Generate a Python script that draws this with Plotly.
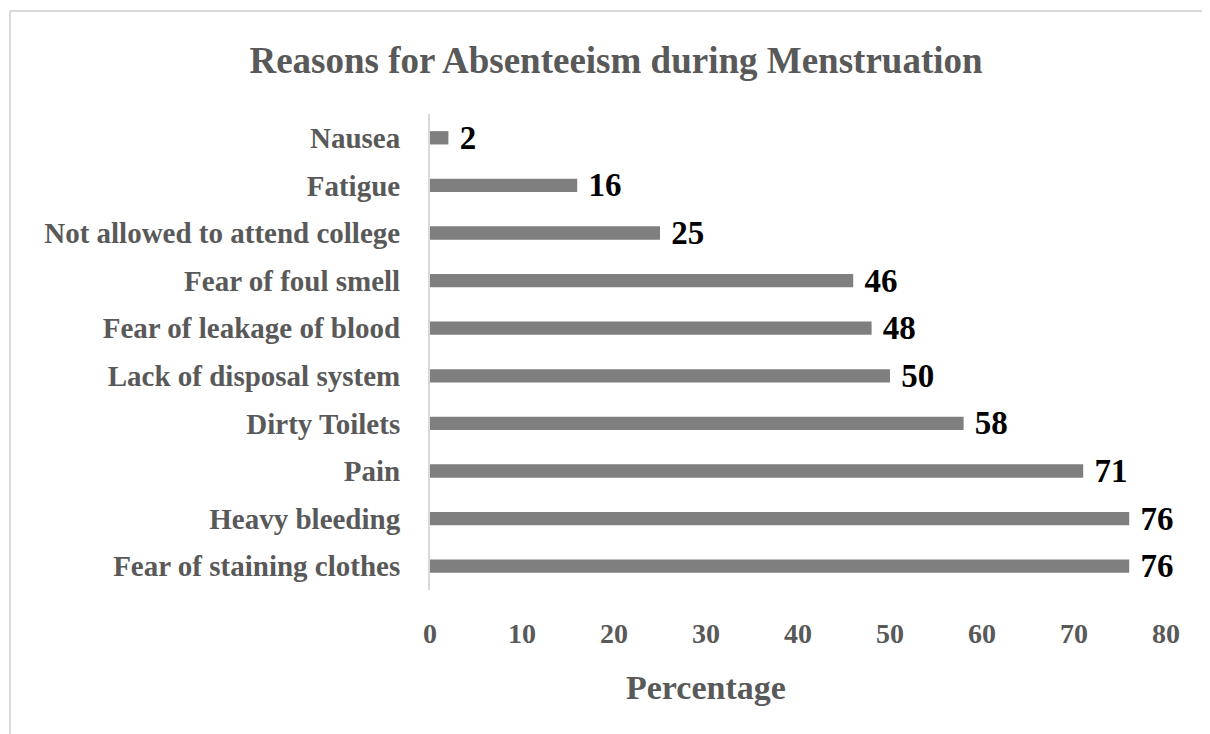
import plotly.graph_objects as go

categories = ["Fear of staining clothes", "Heavy bleeding", "Pain", "Dirty Toilets",
              "Lack of disposal system", "Fear of leakage of blood", "Fear of foul smell",
              "Not allowed to attend college", "Fatigue", "Nausea"]
values = [76, 76, 71, 58, 50, 48, 46, 25, 16, 2]
x_ticks = [0, 10, 20, 30, 40, 50, 60, 70, 80]

OFF = 8  # default page body margin
W, H = 1210 - OFF, 734 - OFF
L, R, T, B = 430 - OFF, 1166 - OFF, 114 - OFF, 590 - OFF

def px(p):
    return (p - OFF - L) / (R - L)

def py(p):
    return (B - (p - OFF)) / (B - T)

FONT = "Liberation Serif"
GRAY = "#595959"

fig = go.Figure(go.Bar(
    y=categories, x=values, orientation="h",
    marker=dict(color="#7f7f7f", line=dict(width=0)),
    width=0.28,
    text=values, texttemplate=" %{x}", textposition="outside",
    constraintext="none",
    textfont=dict(family=FONT, size=33, color="#000000", weight="bold"),
    cliponaxis=False,
))

fig.update_layout(
    width=W, height=H,
    margin=dict(l=L, r=W - R, t=T, b=H - B),
    paper_bgcolor="white", plot_bgcolor="white",
    showlegend=False,
    title=dict(text="Reasons for Absenteeism during Menstruation",
               x=(616 - OFF) / W, xanchor="center", y=1 - (60 - OFF) / H, yanchor="middle",
               font=dict(family=FONT, size=37, color=GRAY, weight="bold")),
    xaxis=dict(range=[0, 80], tickvals=x_ticks, showgrid=False, zeroline=False,
               showline=False, ticks="", ticklabelstandoff=24,
               tickfont=dict(family=FONT, size=28, color=GRAY, weight="bold"), fixedrange=True),
    yaxis=dict(showgrid=False, zeroline=False, showline=True, linecolor="#d9d9d9",
               linewidth=2, ticks="", ticklabelstandoff=22,
               tickfont=dict(family=FONT, size=29, color=GRAY, weight="bold"),
               categoryorder="array", categoryarray=categories),
    annotations=[dict(text="Percentage", xref="paper", yref="paper",
                      x=px(706), y=py(687), xanchor="center", yanchor="middle",
                      showarrow=False,
                      font=dict(family=FONT, size=34, color=GRAY, weight="bold"))],
    shapes=[
        dict(type="line", xref="paper", yref="paper", x0=px(10), x1=px(1220),
             y0=py(11), y1=py(11), line=dict(color="#d9d9d9", width=2)),
        dict(type="line", xref="paper", yref="paper", x0=px(10), x1=px(10),
             y0=py(11), y1=py(745), line=dict(color="#d9d9d9", width=2)),
    ],
)

fig.write_html("out.html")
